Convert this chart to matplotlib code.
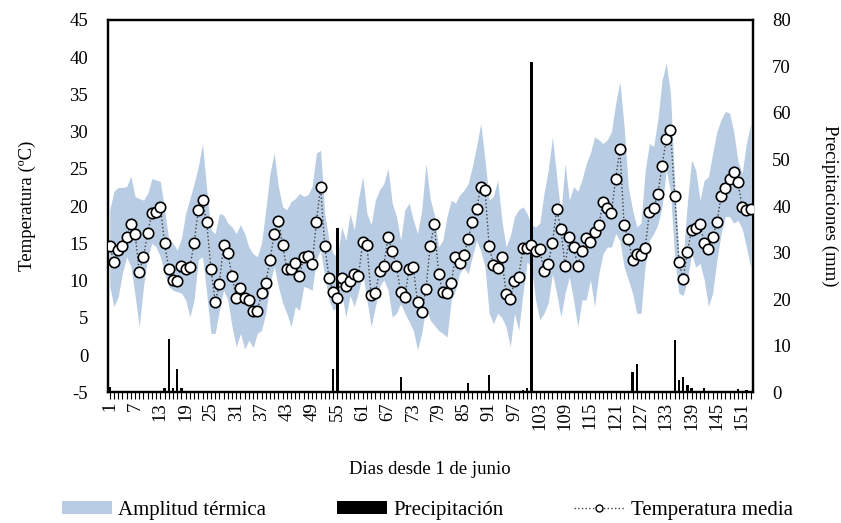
import numpy as np
import matplotlib
matplotlib.use("Agg")
import matplotlib.pyplot as plt
from matplotlib.patches import Patch
from matplotlib.lines import Line2D

plt.rcParams['font.family'] = ['Liberation Serif', 'DejaVu Serif']
plt.rcParams['axes.unicode_minus'] = False

# dias desde el 1 de junio
days = np.arange(1, 154)

# temperatura media diaria (ºC)
t_mean = [14.6, 12.5, 14.1, 14.6, 15.8, 17.6, 16.3, 11.2, 13.2, 16.4,
          19.1, 19.2, 19.9, 15.0, 11.6, 10.1, 10.0, 11.9, 11.5, 11.8,
          15.0, 19.5, 20.8, 17.8, 11.6, 7.1, 9.6, 14.8, 13.7, 10.6,
          7.7, 9.0, 7.6, 7.4, 5.9, 5.9, 8.3, 9.7, 12.7, 16.3,
          18.0, 14.8, 11.5, 11.5, 12.4, 10.6, 13.1, 13.3, 12.2, 17.8,
          22.6, 14.6, 10.4, 8.4, 7.6, 10.4, 9.3, 9.9, 10.9, 10.6,
          15.2, 14.8, 8.0, 8.3, 11.3, 12.0, 15.8, 14.0, 12.0, 8.4,
          7.8, 11.6, 11.8, 7.1, 5.8, 8.9, 14.6, 17.6, 10.9, 8.4,
          8.3, 9.7, 13.2, 12.3, 13.4, 15.6, 17.8, 19.6, 22.6, 22.2,
          14.6, 12.1, 11.7, 13.1, 8.2, 7.5, 10.0, 10.5, 14.4, 14.4,
          14.8, 13.9, 14.2, 11.3, 12.2, 15.0, 19.6, 16.9, 12.0, 15.8,
          14.5, 12.0, 14.0, 15.7, 15.2, 16.5, 17.4, 20.6, 19.7, 19.1,
          23.7, 27.6, 17.4, 15.6, 12.7, 13.6, 13.4, 14.4, 19.2, 19.7,
          21.6, 25.4, 29.0, 30.2, 21.3, 12.5, 10.2, 13.8, 16.8, 17.0,
          17.6, 15.1, 14.2, 15.9, 17.8, 21.3, 22.4, 23.6, 24.6, 23.2,
          19.9, 19.5, 19.6]

# maximas diarias (ºC)
t_max = [19.5, 22.0, 22.5, 22.5, 22.6, 24.0, 21.3, 21.0, 20.8, 21.7,
         23.7, 23.5, 23.3, 19.5, 15.5, 15.0, 14.1, 15.7, 19.0, 21.0,
         23.0, 25.3, 28.4, 22.2, 16.8, 16.3, 19.0, 18.8, 17.7, 17.2,
         16.3, 17.5, 16.3, 14.5, 13.6, 13.2, 15.0, 19.5, 24.4, 27.1,
         22.6, 19.9, 19.5, 20.6, 21.0, 21.7, 21.3, 21.5, 22.6, 27.1,
         27.5, 19.0, 15.4, 13.6, 13.2, 17.2, 15.4, 19.0, 16.8, 21.0,
         24.0, 19.0, 17.5, 20.8, 22.2, 23.0, 25.1, 20.4, 18.6, 15.4,
         19.5, 20.4, 18.1, 16.3, 19.5, 25.7, 21.0, 18.8, 14.5, 15.4,
         18.6, 20.8, 20.4, 21.5, 22.1, 23.0, 25.3, 28.0, 31.1, 26.2,
         20.8, 21.3, 23.5, 18.1, 14.5, 16.0, 18.6, 19.5, 19.9, 19.0,
         17.5, 17.2, 17.7, 21.7, 24.8, 29.3, 24.0, 19.0, 25.7, 20.8,
         22.6, 22.0, 23.5, 25.7, 27.1, 29.3, 28.9, 28.4, 28.9, 30.0,
         33.8, 36.7, 30.7, 22.6, 19.5, 17.2, 17.7, 24.8, 28.4, 28.0,
         31.6, 36.9, 39.2, 35.1, 23.0, 13.5, 13.0, 20.4, 26.2, 24.8,
         20.8, 23.5, 23.9, 27.1, 30.0, 31.6, 32.7, 32.5, 30.0, 26.0,
         24.4, 28.4, 31.0]

# minimas diarias (ºC)
t_min = [9.2, 6.5, 7.8, 11.0, 13.2, 11.9, 8.0, 3.8, 9.2, 13.2,
         15.0, 14.5, 13.2, 11.0, 9.2, 8.7, 8.5, 8.3, 7.4, 5.1,
         7.4, 12.8, 13.2, 8.3, 2.9, 2.9, 6.0, 8.7, 7.4, 3.8,
         1.1, 2.9, 0.8, 2.0, 1.0, 2.9, 3.3, 5.6, 9.6, 11.9,
         9.2, 7.0, 5.6, 3.8, 6.5, 6.0, 9.2, 9.0, 8.7, 12.8,
         14.1, 10.5, 7.4, 6.0, 6.5, 8.3, 5.1, 8.0, 6.5, 8.5,
         11.0, 7.4, 3.8, 6.5, 9.2, 10.1, 8.7, 5.1, 5.6, 6.9,
         5.6, 4.5, 3.3, 0.7, 2.9, 6.5, 4.7, 4.0, 3.3, 2.9,
         2.4, 7.4, 8.7, 11.0, 11.8, 10.9, 13.2, 15.4, 14.0, 11.8,
         5.6, 4.2, 5.6, 5.0, 3.8, 1.1, 5.6, 3.3, 8.3, 12.5,
         11.8, 7.4, 4.7, 5.6, 7.0, 10.9, 8.3, 5.1, 8.3, 10.5,
         7.4, 3.8, 7.4, 7.4, 10.1, 6.5, 10.9, 13.6, 14.5, 14.5,
         16.3, 15.4, 11.8, 10.1, 8.3, 5.6, 5.6, 12.0, 15.4, 16.3,
         17.5, 19.9, 24.8, 22.0, 13.0, 8.3, 8.0, 10.1, 13.6, 11.8,
         12.3, 10.1, 6.5, 8.3, 12.7, 16.3, 18.6, 18.6, 17.7, 18.1,
         17.0, 14.5, 11.8]

# dias con lluvia y precipitacion (mm)
rain_days = [1, 14, 15, 16, 17, 18, 54, 55, 70, 86, 91, 99, 100, 101,
             125, 126, 135, 136, 137, 138, 139, 142, 150, 152]
rain_mm = [1.2, 0.9, 11.5, 0.9, 5.1, 0.9, 4.9, 35.3, 3.2, 1.9, 3.8, 0.5, 0.9, 70.9,
           4.4, 6.0, 11.2, 2.6, 3.2, 1.5, 0.9, 0.9, 0.6, 0.4]

tick_days = list(range(1, 154, 6))

band_col = '#b8cce4'
fs = 13.5

fig = plt.figure(figsize=(8.41, 5.23), dpi=100)
ax = fig.add_axes([0.128, 0.250, 0.767, 0.712])

# amplitud termica
ax.fill_between(days, t_min, t_max, color=band_col, linewidth=0)
ax.set_ylim(-5, 45)
ax.set_yticks(range(-5, 50, 5))
ax.set_xlim(0.5, 153.5)
ax.set_xticks(tick_days)
ax.set_xticks(days, minor=True)
ax.set_xticklabels([str(d) for d in tick_days], rotation=90, fontsize=fs)
ax.tick_params(axis='x', which='both', direction='out', length=5, width=0.8, pad=2)
ax.tick_params(axis='y', length=0, pad=14, labelsize=fs)
ax.set_ylabel('Temperatura (ºC)', fontsize=fs, labelpad=24)
ax.set_xlabel('Dias desde 1 de junio', fontsize=fs, labelpad=22)

# precipitacion en el eje derecho
ax2 = ax.twinx()
ax2.bar(rain_days, rain_mm, width=0.55, color='black', linewidth=0)
ax2.set_ylim(0, 80)
ax2.set_yticks(range(0, 90, 10))
ax2.tick_params(axis='y', length=0, pad=14, labelsize=fs)
ax2.set_ylabel('Precipitaciones (mm)', fontsize=fs, rotation=270, labelpad=34)

# temperatura media encima de todo
ax3 = ax.twinx()
ax3.set_ylim(-5, 45)
ax3.plot(days, t_mean, color='#404040', linestyle=':', linewidth=1.0,
         marker='o', markersize=7.5, markerfacecolor='white',
         markeredgecolor='black', markeredgewidth=1.2)
ax3.axis('off')

for a in (ax, ax2):
    for s in a.spines.values():
        s.set_color('black')
        s.set_linewidth(1.6)

handles = [Patch(facecolor=band_col, edgecolor='none'),
           Patch(facecolor='black', edgecolor='none'),
           Line2D([], [], color='#404040', linestyle=':', linewidth=1.0,
                  marker='o', markersize=5, markerfacecolor='white',
                  markeredgecolor='black')]
labels = ['Amplitud térmica', 'Precipitación', 'Temperatura media']
fig.legend(handles, labels, loc='lower center', bbox_to_anchor=(0.508, -0.03),
           ncol=3, frameon=False, fontsize=15, handlelength=2.4,
           handleheight=0.6, handletextpad=0.3, columnspacing=3.4)

fig.savefig('out.png', dpi=100)
